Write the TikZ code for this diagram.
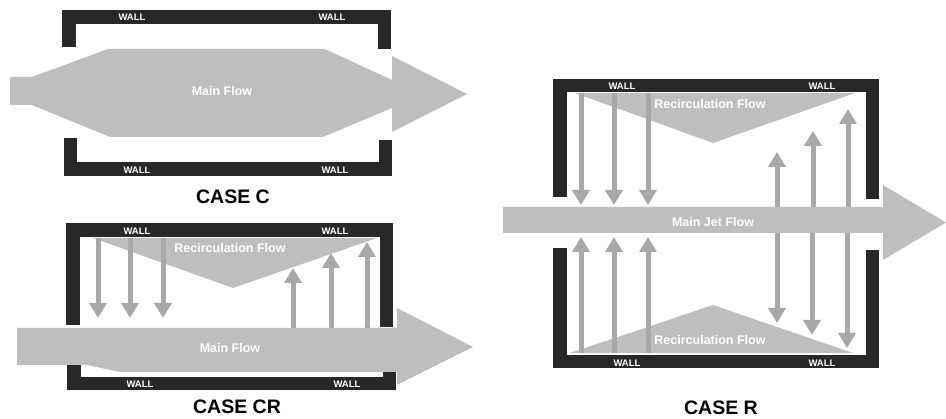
\documentclass[tikz,border=0pt]{standalone}
\usepackage{fontspec}
\setmainfont{Liberation Sans}
\usetikzlibrary{arrows.meta}
\definecolor{wallgray}{RGB}{40,40,40}
\definecolor{flowgray}{RGB}{190,190,190}
\definecolor{arrgray}{RGB}{168,168,168}
\begin{document}
\begin{tikzpicture}[x=1pt,y=-1pt,wall/.style={draw=wallgray,line width=13.5pt,line join=miter},flow/.style={fill=flowgray},walltxt/.style={text=white,font=\bfseries\fontsize{9.5}{10}\selectfont,inner sep=0pt},flowtxt/.style={text=white,font=\bfseries\fontsize{12.5}{14}\selectfont,inner sep=0pt},casetxt/.style={font=\bfseries\fontsize{19.5}{22}\selectfont,inner sep=0pt},vflow/.style={draw=arrgray,line width=5pt,-{Triangle[width=17pt,length=15pt]}}]
\useasboundingbox (0,0) rectangle (946,419);

\draw[wall] (69,47)--(69,17)--(384.5,17)--(384.5,49);
\draw[wall] (70.5,138)--(70.5,169)--(385.5,169)--(385.5,140);
\fill[flow] (10,77)--(32,77)--(108,49)--(325,49)--(392,80)--(392,56)--(467,94)--(392,132)--(392,108)--(323,137)--(110,137)--(32,105)--(10,105)--cycle;
\node[walltxt] (wc1) at (132,17) {WALL};
\node[walltxt] (wc2) at (332,17) {WALL};
\node[walltxt] (wc3) at (137,170) {WALL};
\node[walltxt] (wc4) at (335,170) {WALL};
\node[flowtxt] (mainc) at (222,91) {Main Flow};
\node[casetxt] (casec) at (233,197) {CASE C};

\draw[wall] (73,325)--(73,230)--(386.5,230)--(386.5,327);
\draw[wall] (74,365)--(74,383.5)--(389.5,383.5)--(389.5,367);
\fill[flow] (93,238)--(377,238)--(233,288)--cycle;
\fill[flow] (17,328)--(397,328)--(397,308)--(473,347)--(397,385)--(397,372)--(120,372)--(87,365)--(17,365)--cycle;
\foreach \x in {98,130,163} \draw[vflow] (\x,238)--(\x,318);
\foreach \x/\y in {293/268,331/253,367/242} \draw[vflow] (\x,328)--(\x,\y);
\node[walltxt] (wcr1) at (137,231) {WALL};
\node[walltxt] (wcr2) at (335,231) {WALL};
\node[walltxt] (wcr3) at (140,384) {WALL};
\node[walltxt] (wcr4) at (347,384) {WALL};
\node[flowtxt] (recicr) at (230,248) {Recirculation Flow};
\node[flowtxt] (maincr) at (230,348) {Main Flow};
\node[casetxt] (casecr) at (237,407) {CASE CR};

\draw[wall] (560,197)--(560,85.5)--(872.5,85.5)--(872.5,199);
\draw[wall] (560,248)--(560,361.5)--(872.5,361.5)--(872.5,250);
\fill[flow] (575,93)--(855,93)--(713,143)--cycle;
\fill[flow] (570,353)--(853,353)--(713,305)--cycle;
\fill[flow] (503,207)--(883,207)--(883,185)--(946,222.5)--(883,260)--(883,233)--(503,233)--cycle;
\foreach \x in {581,614,648} {\draw[vflow] (\x,93)--(\x,205); \draw[vflow] (\x,353)--(\x,237);}
\foreach \x/\y in {777/152,813/131,848/109} \draw[vflow] (\x,207)--(\x,\y);
\foreach \x/\y in {777/323,812/335,847/348} \draw[vflow] (\x,233)--(\x,\y);
\node[walltxt] (wr1) at (622,86) {WALL};
\node[walltxt] (wr2) at (822,86) {WALL};
\node[walltxt] (wr3) at (627,363) {WALL};
\node[walltxt] (wr4) at (822,363) {WALL};
\node[flowtxt] (recir1) at (710,104) {Recirculation Flow};
\node[flowtxt] (recir2) at (710,340) {Recirculation Flow};
\node[flowtxt] (mainr) at (713,222) {Main Jet Flow};
\node[casetxt] (caser) at (721,408) {CASE R};
\end{tikzpicture}
\end{document}
